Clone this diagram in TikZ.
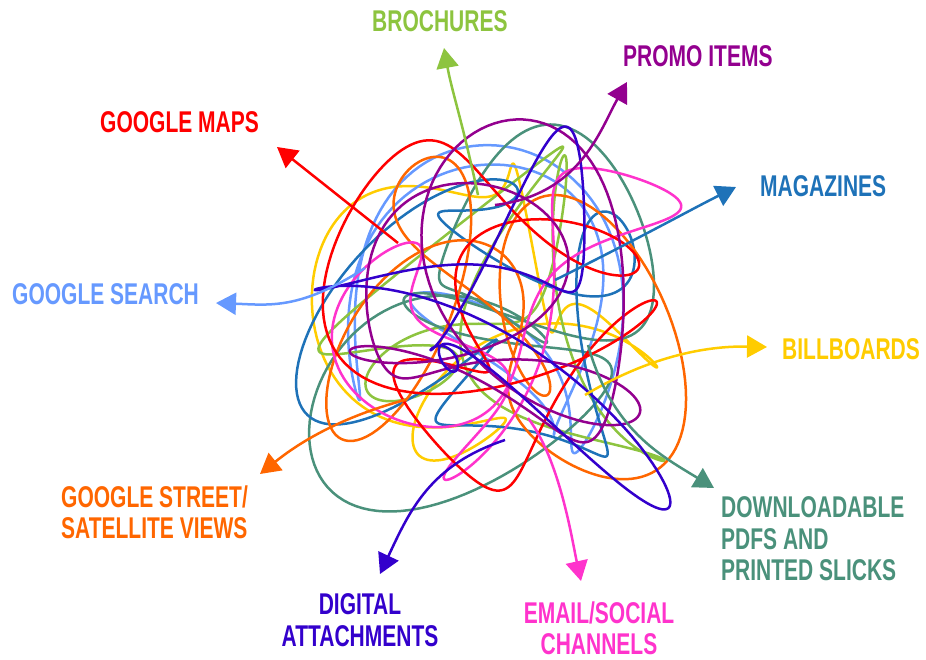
\documentclass[tikz,border=0pt]{standalone}
\usepackage{fontspec}
\setmainfont{Liberation Sans}[FakeStretch=0.70]
\usetikzlibrary{arrows.meta}
\definecolor{cRed}{HTML}{FF0000}
\definecolor{cGreen}{HTML}{8DC43F}
\definecolor{cPurple}{HTML}{93008F}
\definecolor{cBlue}{HTML}{1E72B8}
\definecolor{cLBlue}{HTML}{6699FF}
\definecolor{cYellow}{HTML}{FFCC00}
\definecolor{cTeal}{HTML}{4A917B}
\definecolor{cPink}{HTML}{FF33CC}
\definecolor{cIndigo}{HTML}{3300CC}
\definecolor{cOrange}{HTML}{FF6600}
\begin{document}
\begin{tikzpicture}[x=1pt,y=-1pt,
  scrib/.style={line width=2.5pt, line join=round, line cap=round},
  arr/.style={line width=2.5pt, -{Triangle[length=20pt,width=22pt]}},
  lab/.style={font=\bfseries\fontsize{30}{31}\selectfont, inner sep=0pt},
  pl/.style={domain=0:360, samples=320, variable=\t}]
\useasboundingbox (0,0) rectangle (926,660);
% scribble ball
\draw[scrib,cYellow] plot[pl] ({495+110*cos(\t+330)+58*cos(3*\t+210)+32*cos(4*\t+60)},{318+110*sin(\t+330)+58*sin(2*\t+100)+32*sin(5*\t+170)});
\draw[scrib,cLBlue] plot[pl] ({495+110*cos(2*\t+240)+58*cos(\t+40)+32*cos(5*\t+330)},{318+110*sin(3*\t+10)+58*sin(\t+120)+32*sin(4*\t+200)});
\draw[scrib,cGreen] plot[pl] ({495+110*cos(\t+200)+58*cos(4*\t+30)+32*cos(5*\t+120)},{318+110*sin(2*\t+80)+58*sin(3*\t+250)+32*sin(5*\t+40)});
\draw[scrib,cTeal] plot[pl] ({495+105*cos(3*\t+120)+62*cos(\t+170)+32*cos(4*\t+40)},{318+105*sin(\t+40)+62*sin(3*\t+300)+32*sin(5*\t+250)});
\draw[scrib,cBlue] plot[pl] ({495+110*cos(\t+90)+58*cos(4*\t+160)+32*cos(3*\t+270)},{318+110*sin(\t+90)+58*sin(3*\t+200)+32*sin(5*\t+30)});
\draw[scrib,cOrange] plot[pl] ({495+110*cos(\t+60)+58*cos(4*\t+280)+32*cos(2*\t+180)},{318+110*sin(3*\t+30)+58*sin(\t+200)+32*sin(5*\t+110)});
\draw[scrib,cPink] plot[pl] ({495+110*cos(\t+140)+58*cos(2*\t+350)+32*cos(5*\t+100)},{318+110*sin(2*\t+200)+58*sin(\t+90)+32*sin(4*\t+10)});
\draw[scrib,cRed] plot[pl] ({495+110*cos(2*\t+20)+58*cos(3*\t+100)+32*cos(5*\t+200)},{318+110*sin(\t+60)+58*sin(4*\t+10)+32*sin(3*\t+300)});
\draw[scrib,cPurple] plot[pl] ({495+105*cos(3*\t+50)+62*cos(\t+300)+32*cos(5*\t+10)},{318+105*sin(2*\t+150)+62*sin(4*\t+20)+32*sin(3*\t+90)});
\draw[scrib,cIndigo] plot[pl] ({495+105*cos(2*\t+300)+62*cos(3*\t+20)+32*cos(4*\t+150)},{318+105*sin(\t+250)+62*sin(3*\t+140)+32*sin(5*\t+60)});
% labels
\node[lab,cGreen,anchor=base west] (bro) at (372,31.5) {BROCHURES};
\node[lab,cPurple,anchor=base west] (pro) at (623,66.5) {PROMO ITEMS};
\node[lab,cRed,anchor=base west] (gmap) at (100,133) {GOOGLE MAPS};
\node[lab,cBlue,anchor=base west] (mag) at (760,197) {MAGAZINES};
\node[lab,cLBlue,anchor=base west] (gsea) at (12,305) {GOOGLE SEARCH};
\node[lab,cYellow,anchor=base west] (bill) at (782,359) {BILLBOARDS};
\node[lab,cOrange,anchor=base west] (gst1) at (61,507) {GOOGLE STREET/};
\node[lab,cOrange,anchor=base west] (gst2) at (61,538) {SATELLITE VIEWS};
\node[lab,cIndigo,anchor=base] (dig1) at (360,614) {DIGITAL};
\node[lab,cIndigo,anchor=base] (dig2) at (360,646) {ATTACHMENTS};
\node[lab,cPink,anchor=base] (em1) at (599,623) {EMAIL/SOCIAL};
\node[lab,cPink,anchor=base] (em2) at (599,654) {CHANNELS};
\node[lab,cTeal,anchor=base west] (dl1) at (721,517) {DOWNLOADABLE};
\node[lab,cTeal,anchor=base west] (dl2) at (721,549) {PDFS AND};
\node[lab,cTeal,anchor=base west] (dl3) at (721,580) {PRINTED SLICKS};
% arrow ends
\coordinate (broS) at (478,195); \coordinate (broT) at (444,48);
\coordinate (proS) at (495,205); \coordinate (proT) at (627,82);
\coordinate (magS) at (555,280); \coordinate (magT) at (736,187);
\coordinate (gmS) at (398,243); \coordinate (gmT) at (277,147);
\coordinate (gsS) at (365,268); \coordinate (gsT) at (216,303);
\coordinate (biS) at (585,395); \coordinate (biT) at (767,347);
\coordinate (stS) at (405,400); \coordinate (stT) at (260,474);
\coordinate (diS) at (505,440); \coordinate (diT) at (380,574);
\coordinate (emS) at (528,418); \coordinate (emT) at (581,581);
\coordinate (dlS) at (588,345); \coordinate (dlT) at (714,488);
\draw[arr,cGreen] (broS) .. controls (462,120) and (452,92) .. (broT);
\draw[arr,cPurple] (proS) .. controls (580,195) and (600,130) .. (proT);
\draw[arr,cBlue] (magS) .. controls (640,238) and (690,210) .. (magT);
\draw[arr,cRed] (gmS) -- (gmT);
\draw[arr,cLBlue] (gsS) .. controls (300,310) and (270,305) .. (gsT);
\draw[arr,cYellow] (biS) .. controls (660,350) and (720,346) .. (biT);
\draw[arr,cOrange] (stS) .. controls (330,420) and (290,450) .. (stT);
\draw[arr,cIndigo] (diS) .. controls (430,465) and (410,510) .. (diT);
\draw[arr,cPink] (emS) .. controls (560,460) and (572,540) .. (emT);
\draw[arr,cTeal] (dlS) .. controls (612,430) and (660,455) .. (dlT);
\end{tikzpicture}
\end{document}
